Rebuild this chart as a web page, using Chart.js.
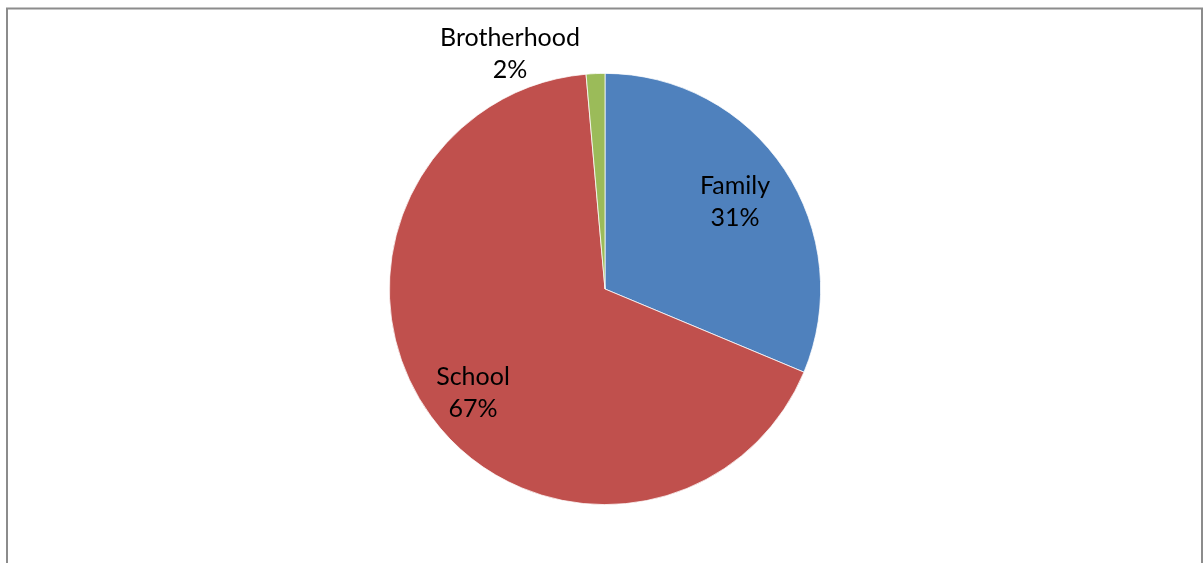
<!DOCTYPE html>
<html>
<head>
<meta charset="utf-8">
<script src="https://cdn.jsdelivr.net/npm/chart.js@4"></script>
<style>
  html, body { margin: 0; padding: 0; background: #ffffff; }
  #wrap { width: 1203px; height: 563px; position: relative; }
</style>
</head>
<body>
<div id="wrap"><canvas id="c" width="1203" height="563"></canvas></div>
<script>
// ---- data ----
const categories = ["Family", "School", "Brotherhood"];
const shares = [31.3, 67.3, 1.4];
const percentLabels = ["31%", "67%", "2%"];
const sliceColors = ["#4F81BD", "#C0504D", "#9BBB59"];

// ---- label placement (style) ----
const labelFont = '25px Lato, "Open Sans", sans-serif';
const labelPlace = [
  { r: 0.73, dx: -1, dy: 0 },
  { r: 0.77, dx: 2, dy: 6 },
  { outside: true, dx: -95, dy: -235 }
];

const framePlugin = {
  id: 'frame',
  beforeDraw(chart) {
    const ctx = chart.ctx;
    ctx.save();
    ctx.fillStyle = '#ffffff';
    ctx.fillRect(0, 0, chart.width, chart.height);
    ctx.strokeStyle = '#8c8c8c';
    ctx.lineWidth = 2;
    ctx.strokeRect(7, 8.5, 1195, 600);
    ctx.restore();
  }
};

const labelPlugin = {
  id: 'pieLabels',
  afterDatasetsDraw(chart) {
    const ctx = chart.ctx;
    const meta = chart.getDatasetMeta(0);
    ctx.save();
    ctx.font = labelFont;
    ctx.fillStyle = '#000000';
    ctx.textAlign = 'center';
    ctx.textBaseline = 'middle';
    meta.data.forEach((arc, i) => {
      const p = arc.getProps(['x', 'y', 'startAngle', 'endAngle', 'outerRadius'], true);
      const mid = (p.startAngle + p.endAngle) / 2;
      const pl = labelPlace[i];
      let cx, cy;
      if (pl.outside) {
        cx = p.x + pl.dx; cy = p.y + pl.dy;
      } else {
        cx = p.x + Math.cos(mid) * p.outerRadius * pl.r + pl.dx;
        cy = p.y + Math.sin(mid) * p.outerRadius * pl.r + pl.dy;
      }
      ctx.fillText(categories[i], cx, cy - 16);
      ctx.fillText(percentLabels[i], cx, cy + 16);
    });
    ctx.restore();
  }
};

new Chart(document.getElementById('c'), {
  type: 'pie',
  data: {
    labels: categories,
    datasets: [{
      data: shares,
      backgroundColor: sliceColors,
      borderColor: '#ffffff',
      borderWidth: 0.75
    }]
  },
  options: {
    responsive: false,
    animation: false,
    layout: { padding: { left: 389, right: 382, top: 73, bottom: 58 } },
    plugins: {
      legend: { display: false },
      tooltip: { enabled: false }
    }
  },
  plugins: [framePlugin, labelPlugin]
});
</script>
</body>
</html>
